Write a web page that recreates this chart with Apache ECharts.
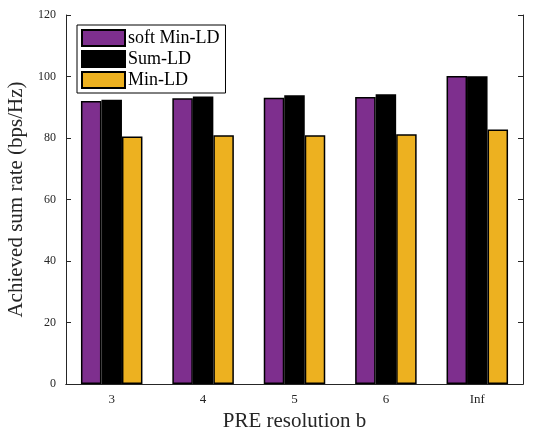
<!DOCTYPE html>
<html>
<head>
<meta charset="utf-8">
<script src="https://cdn.jsdelivr.net/npm/echarts@6/dist/echarts.min.js"></script>
<style>
  html, body { margin: 0; padding: 0; background: #fff; }
  #chart { width: 533px; height: 428px; }
</style>
</head>
<body>
<div id="chart"></div>
<script>
// categories and values
var categories = ['3', '4', '5', '6', 'Inf'];
var softMinLD = [92.0, 92.9, 93.1, 93.3, 100.2];
var sumLD = [92.4, 93.5, 93.9, 94.2, 100.1];
var minLD = [80.5, 80.9, 80.9, 81.2, 82.8];
var yTicks = [0, 20, 40, 60, 80, 100, 120];

var serif = 'Liberation Serif';
var axisColor = '#262626';

var chart = echarts.init(document.getElementById('chart'));

function barSeries(name, data, color) {
    return {
        name: name,
        type: 'bar',
        data: data,
        barWidth: 20.5,
        barGap: '0%',
        itemStyle: { color: color, borderColor: '#000', borderWidth: 1.5 }
    };
}

var option = {
    animation: false,
    grid: { left: 66, right: 10, top: 15, bottom: 44, outerBoundsMode: 'none', containLabel: false },
    legend: {
        orient: 'vertical',
        left: 77,
        top: 25,
        padding: [4, 6, 4, 4],
        itemGap: 3,
        itemWidth: 43,
        itemHeight: 16,
        backgroundColor: '#fff',
        borderColor: '#000',
        borderWidth: 1,
        borderRadius: 0,
        icon: 'rect',
        textStyle: { fontFamily: serif, fontSize: 18, lineHeight: 18, color: '#000', padding: [0, 0, 0, -2] },
        data: ['soft Min-LD', 'Sum-LD', 'Min-LD']
    },
    xAxis: [{
        type: 'category',
        data: categories,
        name: 'PRE resolution b',
        nameLocation: 'middle',
        nameGap: 24,
        nameTextStyle: { fontFamily: serif, fontSize: 21, color: '#262626' },
        axisLine: { lineStyle: { color: axisColor, width: 1 } },
        axisTick: { inside: true, alignWithLabel: true, length: 5, lineStyle: { color: axisColor } },
        axisLabel: { fontFamily: serif, fontSize: 13, color: '#262626', margin: 9 }
    }, {
        type: 'category',
        data: categories,
        position: 'top',
        axisLine: { lineStyle: { color: axisColor, width: 1 } },
        axisTick: { inside: true, alignWithLabel: true, length: 5, lineStyle: { color: axisColor } },
        axisLabel: { show: false }
    }],
    yAxis: [{
        type: 'value',
        min: 0,
        max: 120,
        interval: 20,
        name: 'Achieved sum rate (bps/Hz)',
        nameLocation: 'middle',
        nameGap: 38,
        nameTextStyle: { fontFamily: serif, fontSize: 21, color: '#262626' },
        axisLine: { show: true, lineStyle: { color: axisColor, width: 1 } },
        axisTick: { show: true, inside: true, length: 5, lineStyle: { color: axisColor } },
        axisLabel: {
            fontFamily: serif, fontSize: 12, color: '#262626', margin: 10,
            formatter: function(v) { return yTicks.indexOf(v) >= 0 ? String(v) : ''; }
        },
        splitLine: { show: false }
    }, {
        type: 'value',
        min: 0,
        max: 120,
        interval: 20,
        position: 'right',
        axisLine: { show: true, lineStyle: { color: axisColor, width: 1 } },
        axisTick: { show: true, inside: true, length: 5, lineStyle: { color: axisColor } },
        axisLabel: { show: false },
        splitLine: { show: false }
    }],
    series: [
        barSeries('soft Min-LD', softMinLD, '#7E2F8E'),
        barSeries('Sum-LD', sumLD, '#000000'),
        barSeries('Min-LD', minLD, '#EDB120')
    ]
};

chart.setOption(option);
</script>
</body>
</html>
